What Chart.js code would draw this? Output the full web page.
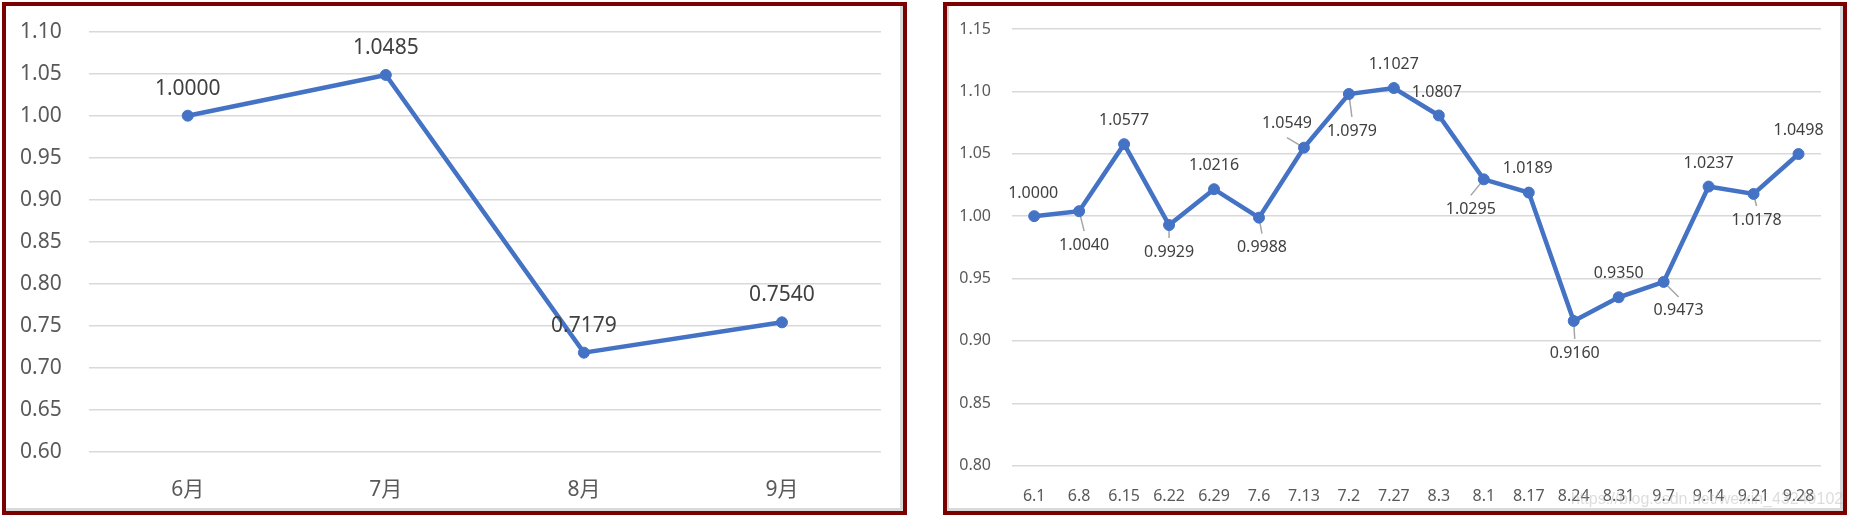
<!DOCTYPE html>
<html>
<head>
<meta charset="utf-8">
<script src="https://cdn.jsdelivr.net/npm/chart.js@4/dist/chart.umd.min.js"></script>
<style>
body { margin: 0; width: 1851px; height: 519px; background: #fff; position: relative; overflow: hidden; }
.box { position: absolute; top: 2px; height: 505px; border: 4px solid #7b0000; background: #fff; }
#boxLeft { left: 2px; width: 897px; box-shadow: inset -3px -3px 0 #d9d9d9; }
#boxRight { left: 943px; width: 896px; box-shadow: inset 2px 0 0 #d9d9d9, inset -3px -3px 0 #d9d9d9; }
canvas { position: absolute; left: 0; top: 0; }
#mark { position: absolute; left: 1571px; top: 490px; font: 16px "Liberation Sans", Arial, sans-serif; color: rgba(180, 180, 180, 0.45); white-space: nowrap; }
</style>
</head>
<body>
<div class="box" id="boxLeft"><canvas id="monthly" width="896" height="504"></canvas></div>
<div class="box" id="boxRight"><canvas id="weekly" width="895" height="504"></canvas></div>
<div id="mark">https://blog.csdn.net/weixin_43249102</div>
<script>
// monthly net value
var months = ['6月', '7月', '8月', '9月']
var monthValues = [1.0000, 1.0485, 0.7179, 0.7540]

// weekly net value
var weeks = ['6.1', '6.8', '6.15', '6.22', '6.29', '7.6', '7.13', '7.2', '7.27',
    '8.3', '8.1', '8.17', '8.24', '8.31', '9.7', '9.14', '9.21', '9.28']
var weekValues = [1.0000, 1.0040, 1.0577, 0.9929, 1.0216, 0.9988, 1.0549, 1.0979, 1.1027,
    1.0807, 1.0295, 1.0189, 0.9160, 0.9350, 0.9473, 1.0237, 1.0178, 1.0498]

var FONT = '"Noto Sans", "Noto Sans CJK SC", sans-serif'
var BLUE = '#4472c4'

/**
 * Draws value labels next to the points, with grey leader lines when moved away
 */
var valueLabels = {
    id: 'valueLabels',
    beforeDatasetsDraw(chart, args, opts) {
        let ctx = chart.ctx
        let meta = chart.getDatasetMeta(0)
        ctx.save()
        ctx.strokeStyle = '#a6a6a6'
        ctx.lineWidth = 1.5
        meta.data.forEach((pt, i) => {
            let p = opts.place ? opts.place[i] : null
            if(!p || !p[2]) return
            let lx = pt.x + p[0], ly = pt.y + p[1]
            ctx.beginPath()
            ctx.moveTo(pt.x, pt.y)
            ctx.lineTo(lx, ly - Math.sign(p[1])*14)
            ctx.stroke()
        })
        ctx.restore()
    },
    afterDatasetsDraw(chart, args, opts) {
        let ctx = chart.ctx
        let meta = chart.getDatasetMeta(0)
        let data = chart.data.datasets[0].data
        ctx.save()
        ctx.font = opts.size + 'px ' + FONT
        ctx.fillStyle = '#404040'
        ctx.textAlign = 'center'
        ctx.textBaseline = 'middle'
        meta.data.forEach((pt, i) => {
            let p = opts.place ? opts.place[i] : [0, opts.dy, false]
            ctx.fillText(data[i].toFixed(4), pt.x + p[0], pt.y + p[1])
        })
        ctx.restore()
    }
}

function makeChart(id, labels, values, o) {
    let ctx = document.getElementById(id).getContext('2d')
    return new Chart(ctx, {
        type: 'line',
        plugins: [valueLabels],
        data: {
            labels: labels,
            datasets: [{
                data: values,
                borderColor: BLUE,
                backgroundColor: BLUE,
                borderWidth: 4.5,
                pointRadius: 5.5,
                pointBorderWidth: 1,
                tension: 0
            }]
        },
        options: {
            responsive: false,
            animation: false,
            layout: { padding: { left: 0, right: o.padRight, top: o.padTop, bottom: 0 } },
            plugins: {
                legend: { display: false },
                tooltip: { enabled: false },
                valueLabels: { size: o.labelSize, dy: o.labelDy, place: o.place }
            },
            scales: {
                x: {
                    offset: true,
                    grid: { display: false },
                    border: { display: false },
                    ticks: { color: '#595959', font: { family: FONT, size: o.xSize }, padding: o.xPad, maxRotation: 0, autoSkip: false },
                    afterFit: s => { s.height = o.xHeight }
                },
                y: {
                    min: o.min,
                    max: o.max,
                    // tick marks are invisible, their length only spaces the labels
                    grid: { color: '#d9d9d9', lineWidth: 1.5, drawTicks: true, tickLength: o.yGap, tickColor: 'rgba(0,0,0,0)' },
                    border: { display: false },
                    ticks: { stepSize: 0.05, color: '#595959', font: { family: FONT, size: o.ySize }, padding: 0,
                        callback: v => v.toFixed(2) },
                    afterFit: s => { s.width = o.yWidth }
                }
            }
        }
    })
}

makeChart('monthly', months, monthValues, {
    min: 0.6, max: 1.1, padRight: 21, padTop: 25.7,
    xSize: 21, xPad: 18, xHeight: 58.3,
    ySize: 21, yGap: 27, yWidth: 82.7,
    labelSize: 21, labelDy: -27
})

makeChart('weekly', weeks, weekValues, {
    min: 0.8, max: 1.15, padRight: 21, padTop: 23,
    xSize: 16, xPad: 13, xHeight: 44.3,
    ySize: 16, yGap: 20.7, yWidth: 64.7,
    labelSize: 16,
    place: [[-1, -23], [5, 34, 1], [0, -24], [0, 27, 1], [0, -24], [3, 30, 1],
        [-17, -24, 1], [3, 37, 1], [0, -24], [-2, -23], [-13, 30, 1], [-1, -24],
        [1, 32, 1], [0, -24], [15, 29, 1], [0, -23], [3, 26, 1], [0, -24]]
})
</script>
</body>
</html>
